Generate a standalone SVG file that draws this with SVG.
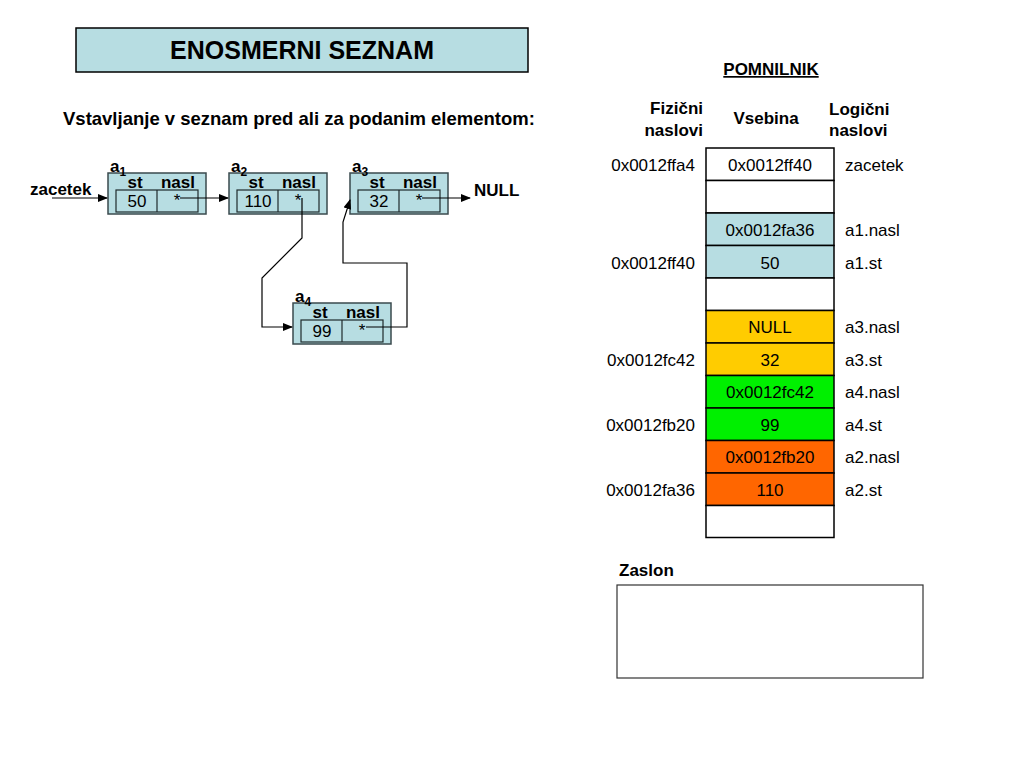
<svg xmlns="http://www.w3.org/2000/svg" width="1024" height="768" viewBox="0 0 1024 768">
<defs>
<marker id="arr" markerWidth="10" markerHeight="8" refX="9" refY="4" orient="auto" markerUnits="userSpaceOnUse">
<path d="M0,0 L10,4 L0,8 Z" fill="#000"/>
</marker>
<style>
text{font-family:"Liberation Sans",Arial,sans-serif;fill:#000}
.b{font-weight:bold}
.outer{fill:#B7DDE2;stroke:#3a4a4d;stroke-width:1.5}
.inner{fill:#B7DDE2;stroke:#1f2a2c;stroke-width:1.2}
.hdr{font-size:17px;font-weight:bold}
.val{font-size:17px}
.mem{stroke:#000;stroke-width:1.5}
.mt{font-size:17px}
.conn{fill:none;stroke:#000;stroke-width:1.2}
</style>
</defs>
<rect width="1024" height="768" fill="#fff"/>

<g id="title">
<rect x="76" y="28" width="452" height="44" fill="#B7DDE2" stroke="#000" stroke-width="1.5"/>
<text x="302" y="59" class="b" font-size="25" text-anchor="middle">ENOSMERNI SEZNAM</text>
</g>
<text x="63" y="125" class="b" font-size="18.5">Vstavljanje v seznam pred ali za podanim elementom:</text>

<g id="node-a1">
<rect class="outer" x="108" y="173" width="98" height="41"/>
<rect class="inner" x="116" y="190" width="82" height="22"/>
<line x1="157" y1="190" x2="157" y2="212" stroke="#1f2a2c" stroke-width="1.2"/>
<text x="110" y="172" class="b" font-size="17">a<tspan font-size="12" dy="4">1</tspan></text>
<text x="135" y="188" class="hdr" text-anchor="middle">st</text>
<text x="178" y="188" class="hdr" text-anchor="middle">nasl</text>
<text x="137" y="207" class="val" text-anchor="middle">50</text>
<text x="177" y="206" class="val" text-anchor="middle">*</text>
</g>
<g id="node-a2">
<rect class="outer" x="229" y="173" width="98" height="41"/>
<rect class="inner" x="237" y="190" width="82" height="22"/>
<line x1="278" y1="190" x2="278" y2="212" stroke="#1f2a2c" stroke-width="1.2"/>
<text x="231" y="172" class="b" font-size="17">a<tspan font-size="12" dy="4">2</tspan></text>
<text x="256" y="188" class="hdr" text-anchor="middle">st</text>
<text x="299" y="188" class="hdr" text-anchor="middle">nasl</text>
<text x="258" y="207" class="val" text-anchor="middle">110</text>
<text x="298" y="206" class="val" text-anchor="middle">*</text>
</g>
<g id="node-a3">
<rect class="outer" x="350" y="173" width="98" height="41"/>
<rect class="inner" x="358" y="190" width="82" height="22"/>
<line x1="399" y1="190" x2="399" y2="212" stroke="#1f2a2c" stroke-width="1.2"/>
<text x="352" y="172" class="b" font-size="17">a<tspan font-size="12" dy="4">3</tspan></text>
<text x="377" y="188" class="hdr" text-anchor="middle">st</text>
<text x="420" y="188" class="hdr" text-anchor="middle">nasl</text>
<text x="379" y="207" class="val" text-anchor="middle">32</text>
<text x="419" y="206" class="val" text-anchor="middle">*</text>
</g>
<g id="node-a4">
<rect class="outer" x="293" y="303" width="98" height="41"/>
<rect class="inner" x="301" y="320" width="82" height="22"/>
<line x1="342" y1="320" x2="342" y2="342" stroke="#1f2a2c" stroke-width="1.2"/>
<text x="295" y="302" class="b" font-size="17">a<tspan font-size="12" dy="4">4</tspan></text>
<text x="320" y="318" class="hdr" text-anchor="middle">st</text>
<text x="363" y="318" class="hdr" text-anchor="middle">nasl</text>
<text x="322" y="337" class="val" text-anchor="middle">99</text>
<text x="362" y="336" class="val" text-anchor="middle">*</text>
</g>

<g id="labels">
<text x="30" y="195" class="b" font-size="17">zacetek</text>
<text x="474" y="196" class="b" font-size="17">NULL</text>
</g>

<g id="connectors">
<line class="conn" x1="52" y1="198" x2="107" y2="198" marker-end="url(#arr)"/>
<line class="conn" x1="180" y1="198" x2="228" y2="198" marker-end="url(#arr)"/>
<polyline class="conn" points="302,198 302,238 262,278 262,327 292,327" marker-end="url(#arr)"/>
<polyline class="conn" points="366,327 407,327 407,263 343,263 343,222 350,200" marker-end="url(#arr)"/>
<line class="conn" x1="422" y1="198" x2="470" y2="198" marker-end="url(#arr)"/>
</g>

<g id="memory">
<text x="771" y="75" class="b" font-size="17" text-anchor="middle" text-decoration="underline">POMNILNIK</text>
<text x="703" y="114" class="b" font-size="17" text-anchor="end">Fizični</text>
<text x="703" y="136" class="b" font-size="17" text-anchor="end">naslovi</text>
<text x="766" y="124" class="b" font-size="17" text-anchor="middle">Vsebina</text>
<text x="829" y="115" class="b" font-size="17">Logični</text>
<text x="829" y="136" class="b" font-size="17">naslovi</text>

<rect class="mem" x="706" y="148" width="128" height="32.5" fill="#fff"/>
<rect class="mem" x="706" y="180.5" width="128" height="32.5" fill="#fff"/>
<rect class="mem" x="706" y="213" width="128" height="32.5" fill="#B7DDE2"/>
<rect class="mem" x="706" y="245.5" width="128" height="32.5" fill="#B7DDE2"/>
<rect class="mem" x="706" y="278" width="128" height="32.5" fill="#fff"/>
<rect class="mem" x="706" y="310.5" width="128" height="32.5" fill="#FFCC00"/>
<rect class="mem" x="706" y="343" width="128" height="32.5" fill="#FFCC00"/>
<rect class="mem" x="706" y="375.5" width="128" height="32.5" fill="#00F000"/>
<rect class="mem" x="706" y="408" width="128" height="32.5" fill="#00F000"/>
<rect class="mem" x="706" y="440.5" width="128" height="32.5" fill="#FF6600"/>
<rect class="mem" x="706" y="473" width="128" height="32.5" fill="#FF6600"/>
<rect class="mem" x="706" y="505.5" width="128" height="32" fill="#fff"/>

<text x="770" y="171" class="mt" text-anchor="middle">0x0012ff40</text>
<text x="770" y="236" class="mt" text-anchor="middle">0x0012fa36</text>
<text x="770" y="269" class="mt" text-anchor="middle">50</text>
<text x="770" y="333" class="mt" text-anchor="middle">NULL</text>
<text x="770" y="366" class="mt" text-anchor="middle">32</text>
<text x="770" y="398" class="mt" text-anchor="middle">0x0012fc42</text>
<text x="770" y="431" class="mt" text-anchor="middle">99</text>
<text x="770" y="463" class="mt" text-anchor="middle">0x0012fb20</text>
<text x="770" y="496" class="mt" text-anchor="middle">110</text>

<text x="695" y="171" class="mt" text-anchor="end">0x0012ffa4</text>
<text x="695" y="269" class="mt" text-anchor="end">0x0012ff40</text>
<text x="695" y="366" class="mt" text-anchor="end">0x0012fc42</text>
<text x="695" y="431" class="mt" text-anchor="end">0x0012fb20</text>
<text x="695" y="496" class="mt" text-anchor="end">0x0012fa36</text>

<text x="845" y="171" class="mt">zacetek</text>
<text x="845" y="236" class="mt">a1.nasl</text>
<text x="845" y="269" class="mt">a1.st</text>
<text x="845" y="333" class="mt">a3.nasl</text>
<text x="845" y="366" class="mt">a3.st</text>
<text x="845" y="398" class="mt">a4.nasl</text>
<text x="845" y="431" class="mt">a4.st</text>
<text x="845" y="463" class="mt">a2.nasl</text>
<text x="845" y="496" class="mt">a2.st</text>
</g>

<g id="zaslon">
<text x="619" y="576" class="b" font-size="17">Zaslon</text>
<rect x="617" y="585" width="306" height="93" fill="#fff" stroke="#333" stroke-width="1.2"/>
</g>
</svg>
